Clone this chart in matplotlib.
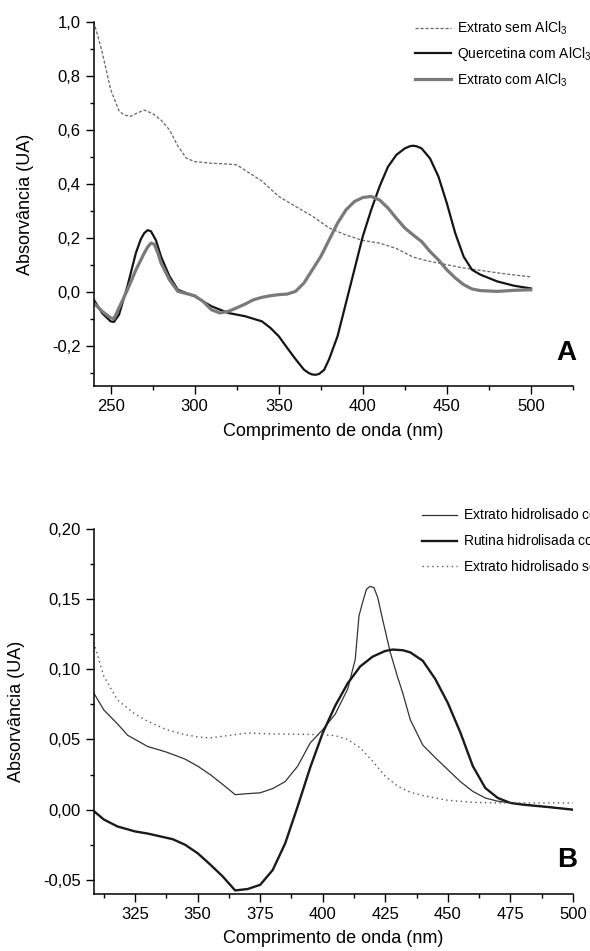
import matplotlib
matplotlib.use("Agg")
import matplotlib.pyplot as plt
from matplotlib.ticker import MultipleLocator, FuncFormatter

plt.rcParams['font.family'] = ['Liberation Sans', 'DejaVu Sans']
plt.rcParams['mathtext.fontset'] = 'custom'
plt.rcParams['mathtext.rm'] = 'Liberation Sans'
plt.rcParams['mathtext.default'] = 'regular'

# panel A - extrato sem AlCl3
wl_sem = [240, 244.5, 250, 255, 258, 262, 265, 270, 275, 280, 285, 290, 295, 300, 310, 320,
          325, 330, 340, 350, 360, 370, 380, 390, 400, 410, 420, 430, 440, 450, 460, 470,
          480, 490, 500]
abs_sem = [1.0, 0.9, 0.75, 0.67, 0.655, 0.65, 0.66, 0.673, 0.66, 0.636, 0.60, 0.54, 0.495,
           0.482, 0.476, 0.473, 0.47, 0.45, 0.41, 0.353, 0.316, 0.28, 0.236, 0.21, 0.19, 0.18,
           0.16, 0.128, 0.112, 0.10, 0.088, 0.079, 0.07, 0.062, 0.055]

# panel A - quercetina com AlCl3
wl_quer = [240, 245, 250, 252, 255, 260, 265, 268, 270, 272, 274, 277, 280, 285, 290, 295,
           300, 305, 310, 320, 330, 340, 345, 350, 355, 360, 365, 368, 370, 372, 374, 377,
           380, 385, 390, 395, 400, 405, 410, 415, 420, 425, 428, 430, 432, 435, 440, 445,
           450, 455, 460, 465, 470, 480, 490, 500]
abs_quer = [-0.03, -0.08, -0.11, -0.112, -0.085, 0.02, 0.143, 0.195, 0.217, 0.228, 0.224,
            0.19, 0.13, 0.057, 0.007, -0.005, -0.017, -0.036, -0.054, -0.079, -0.091, -0.11,
            -0.134, -0.165, -0.208, -0.25, -0.289, -0.302, -0.307, -0.308, -0.305, -0.29,
            -0.25, -0.165, -0.042, 0.081, 0.205, 0.303, 0.39, 0.463, 0.507, 0.531, 0.539,
            0.541, 0.539, 0.531, 0.494, 0.427, 0.328, 0.217, 0.13, 0.081, 0.063, 0.038,
            0.022, 0.012]

# panel A - extrato com AlCl3
wl_com = [240, 245, 250, 252, 255, 260, 265, 270, 272, 274, 276, 278, 280, 285, 290, 295,
          300, 305, 310, 315, 320, 325, 330, 335, 340, 345, 350, 355, 360, 365, 370, 375,
          380, 385, 390, 395, 400, 405, 410, 415, 420, 425, 430, 435, 440, 445, 450, 455,
          460, 465, 470, 480, 490, 500]
abs_com = [-0.042, -0.073, -0.097, -0.1, -0.06, 0.007, 0.08, 0.143, 0.165, 0.18, 0.176,
           0.145, 0.106, 0.044, 0.001, -0.007, -0.015, -0.036, -0.067, -0.079, -0.073, -0.06,
           -0.046, -0.03, -0.021, -0.015, -0.011, -0.009, 0.001, 0.032, 0.081, 0.13, 0.192,
           0.254, 0.303, 0.334, 0.349, 0.353, 0.34, 0.31, 0.272, 0.236, 0.21, 0.186, 0.149,
           0.118, 0.081, 0.051, 0.026, 0.01, 0.004, 0.001, 0.005, 0.007]

# panel B - extrato hidrolisado com AlCl3
wl_hcom = [308.5, 312.5, 318, 322, 325, 330, 337.5, 345, 350, 355, 360, 365, 370, 375, 380,
           385, 390, 395, 400, 405, 410, 413, 414.5, 416, 417.5, 419, 420.5, 422, 424, 427,
           430, 432, 435, 440, 445, 450, 455, 460, 465, 470, 475, 480, 490, 500]
abs_hcom = [0.083, 0.071, 0.061, 0.053, 0.05, 0.045, 0.041, 0.036, 0.031, 0.025, 0.018,
            0.0107, 0.0114, 0.012, 0.015, 0.02, 0.031, 0.0475, 0.057, 0.068, 0.086, 0.107,
            0.138, 0.148, 0.157, 0.159, 0.158, 0.151, 0.135, 0.112, 0.094, 0.083, 0.064,
            0.046, 0.037, 0.0285, 0.02, 0.013, 0.0083, 0.006, 0.0048, 0.0036, 0.0019, 0.0]

# panel B - rutina hidrolisada com AlCl3
wl_rut = [308.5, 312.5, 318, 325, 330, 335, 340, 345, 350, 355, 360, 365, 370, 375, 380,
          385, 390, 395, 400, 405, 410, 415, 420, 425, 428, 432, 435, 440, 445, 450, 455,
          460, 465, 470, 475, 480, 490, 500]
abs_rut = [-0.001, -0.007, -0.012, -0.0155, -0.017, -0.019, -0.021, -0.025, -0.031, -0.039,
           -0.0475, -0.0575, -0.0565, -0.0535, -0.043, -0.024, 0.0024, 0.03, 0.0546, 0.074,
           0.09, 0.102, 0.109, 0.113, 0.114, 0.1135, 0.112, 0.106, 0.093, 0.076, 0.055,
           0.031, 0.0154, 0.0083, 0.0048, 0.0036, 0.0019, 0.0]

# panel B - extrato hidrolisado sem AlCl3
wl_hsem = [308.5, 312.5, 318, 325, 330, 337.5, 345, 350, 355, 360, 365, 370, 380, 390, 400,
           405, 410, 415, 420, 425, 430, 435, 440, 450, 460, 470, 480, 490, 500]
abs_hsem = [0.119, 0.095, 0.078, 0.068, 0.063, 0.057, 0.0534, 0.0518, 0.051, 0.0523, 0.0534,
            0.0546, 0.0539, 0.0537, 0.0534, 0.0527, 0.05, 0.044, 0.0344, 0.0238, 0.0166,
            0.0124, 0.01, 0.0067, 0.0052, 0.0048, 0.0048, 0.0048, 0.0048]


def comma(decimals):
    return FuncFormatter(lambda v, pos: ('%.*f' % (decimals, v)).replace('.', ','))


def style_axis(ax):
    for s in ['top', 'right']:
        ax.spines[s].set_visible(False)
    ax.spines['left'].set_linewidth(1.1)
    ax.spines['bottom'].set_linewidth(1.1)
    ax.tick_params(which='major', direction='out', length=6, width=1, labelsize=12)
    ax.tick_params(which='minor', direction='out', length=3, width=1)
    ax.set_xlabel('Comprimento de onda (nm)', fontsize=13, labelpad=6)
    ax.set_ylabel('Absorvância (UA)', fontsize=13, labelpad=13)


fig = plt.figure(figsize=(5.9, 9.51), dpi=100)

# ---- panel A
axA = fig.add_axes([0.159, 0.594, 0.812, 0.383])
axA.plot(wl_sem, abs_sem, color='#666666', lw=0.9, ls=(0, (2.5, 1.5)), label='Extrato sem AlCl$_3$')
axA.plot(wl_quer, abs_quer, color='#151515', lw=1.6, label='Quercetina com AlCl$_3$')
axA.plot(wl_com, abs_com, color='#7a7a7a', lw=2.3, label='Extrato com AlCl$_3$')
axA.set_xlim(240, 525)
axA.set_ylim(-0.35, 1.0)
axA.xaxis.set_major_locator(MultipleLocator(50))
axA.xaxis.set_minor_locator(MultipleLocator(25))
axA.yaxis.set_major_locator(MultipleLocator(0.2))
axA.yaxis.set_minor_locator(MultipleLocator(0.1))
axA.yaxis.set_major_formatter(comma(1))
style_axis(axA)
axA.text(1.008, 0.09, 'A', transform=axA.transAxes, fontsize=20, fontweight='bold',
         ha='right', va='center')
axA.legend(loc='upper left', bbox_to_anchor=(0.7035, 0.979), bbox_transform=fig.transFigure,
           frameon=False, fontsize=10, handlelength=2.6, handletextpad=0.4,
           labelspacing=0.57, borderpad=0, borderaxespad=0)

# ---- panel B
axB = fig.add_axes([0.159, 0.060, 0.812, 0.384])
axB.plot(wl_hcom, abs_hcom, color='#333333', lw=0.9, label='Extrato hidrolisado com AlCl$_3$')
axB.plot(wl_rut, abs_rut, color='#1a1a1a', lw=1.7, label='Rutina hidrolisada com AlCl$_3$')
axB.plot(wl_hsem, abs_hsem, color='#555555', lw=1.0, ls=(0, (1, 2.5)),
         label='Extrato hidrolisado sem AlCl$_3$')
axB.set_xlim(308.5, 500)
axB.set_ylim(-0.06, 0.20)
axB.xaxis.set_major_locator(MultipleLocator(25))
axB.xaxis.set_minor_locator(MultipleLocator(12.5))
axB.yaxis.set_major_locator(MultipleLocator(0.05))
axB.yaxis.set_minor_locator(MultipleLocator(0.025))
axB.yaxis.set_major_formatter(comma(2))
style_axis(axB)
axB.text(1.008, 0.093, 'B', transform=axB.transAxes, fontsize=20, fontweight='bold',
         ha='right', va='center')
axB.legend(loc='upper left', bbox_to_anchor=(0.716, 0.467), bbox_transform=fig.transFigure,
           frameon=False, fontsize=10, handlelength=2.5, handletextpad=0.4,
           labelspacing=0.6, borderpad=0, borderaxespad=0)

fig.savefig('out.png', dpi=100)
